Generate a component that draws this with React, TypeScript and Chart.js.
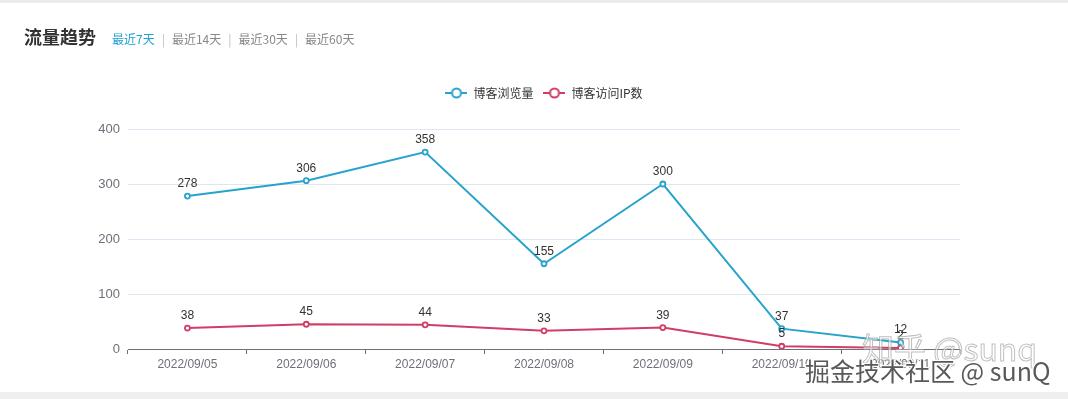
import React, { useEffect, useRef } from "react";
import { Chart, registerables } from "chart.js";

Chart.register(...registerables);

// ---- data ----
const categories = [
  "2022/09/05",
  "2022/09/06",
  "2022/09/07",
  "2022/09/08",
  "2022/09/09",
  "2022/09/10",
  "2022/09/11",
];
const pageViews = [278, 306, 358, 155, 300, 37, 12];
const ipCounts = [38, 45, 44, 33, 39, 5, 2];
const yTicks = [0, 100, 200, 300, 400];
const seriesNames = ["博客浏览量", "博客访问IP数"];
const rangeLinks = ["最近7天", "最近14天", "最近30天", "最近60天"];
const titleText = "流量趋势";
const watermarkA = "知乎 @sunq";
const watermarkB = "掘金技术社区 @ sunQ";

const BLUE = "#27a3cc";
const RED = "#cf3e66";
const FONT = '"Liberation Sans", "Noto Sans CJK SC", sans-serif';
const CJK = '"Noto Sans CJK SC", "Liberation Sans", sans-serif';

function makeIcon(color: string): HTMLCanvasElement {
  const c = document.createElement("canvas");
  c.width = 22;
  c.height = 12;
  const g = c.getContext("2d")!;
  g.strokeStyle = color;
  g.lineWidth = 2;
  g.beginPath();
  g.moveTo(0, 6);
  g.lineTo(22, 6);
  g.stroke();
  g.beginPath();
  g.arc(11, 6, 4.5, 0, Math.PI * 2);
  g.fillStyle = "#fff";
  g.fill();
  g.stroke();
  return c;
}

const valueLabels = {
  id: "valueLabels",
  afterDatasetsDraw(chart: any) {
    const ctx = chart.ctx;
    ctx.save();
    ctx.font = "12px " + FONT;
    ctx.fillStyle = "#333";
    ctx.textAlign = "center";
    ctx.textBaseline = "alphabetic";
    chart.data.datasets.forEach((ds: any, i: number) => {
      const meta = chart.getDatasetMeta(i);
      meta.data.forEach((pt: any, j: number) => {
        ctx.fillText(String(ds.data[j]), pt.x, pt.y - 9);
      });
    });
    ctx.restore();
  },
};

// extra room under the legend, and centre it over the plot area
const PAD_LEFT = 92;
const Y_AXIS_W = 36;
const legendGap = {
  id: "legendGap",
  beforeInit(chart: any) {
    const lg = chart.legend;
    if (!lg) return;
    const fit = lg.fit;
    lg.fit = function () {
      fit.call(this);
      this.height += 20;
    };
  },
  afterLayout(chart: any) {
    const lg = chart.legend;
    if (!lg) return;
    const shift = Y_AXIS_W / 2;
    lg.left += shift;
    lg.right += shift;
  },
};

export default function App() {
  const ref = useRef<HTMLCanvasElement | null>(null);

  useEffect(() => {
    if (!ref.current) return;
    const icons = [makeIcon(BLUE), makeIcon(RED)];
    const chart = new Chart(ref.current, {
      type: "line",
      data: {
        labels: categories,
        datasets: [
          {
            label: seriesNames[0],
            data: pageViews,
            borderColor: BLUE,
            backgroundColor: BLUE,
            borderWidth: 2,
            pointRadius: 2.5,
            pointBorderWidth: 1.8,
            pointBackgroundColor: "#fff",
            pointBorderColor: BLUE,
            tension: 0,
          },
          {
            label: seriesNames[1],
            data: ipCounts,
            borderColor: RED,
            backgroundColor: RED,
            borderWidth: 2,
            pointRadius: 2.5,
            pointBorderWidth: 1.8,
            pointBackgroundColor: "#fff",
            pointBorderColor: RED,
            tension: 0,
          },
        ],
      },
      options: {
        responsive: false,
        animation: false,
        events: [],
        layout: { padding: { top: 77, left: PAD_LEFT, right: 108, bottom: 0 } },
        font: { family: FONT, size: 12 },
        plugins: {
          tooltip: { enabled: false },
          legend: {
            position: "top",
            align: "center",
            labels: {
              usePointStyle: true,
              pointStyleWidth: 22,
              padding: 10,
              color: "#333",
              font: { family: CJK, size: 12 },
              generateLabels(c: any) {
                const items = (Chart.defaults.plugins.legend.labels as any).generateLabels(c);
                return items.map((it: any, i: number) => ({
                  ...it,
                  pointStyle: icons[i],
                  fontColor: "#333",
                }));
              },
            },
          },
        },
        scales: {
          x: {
            offset: true,
            grid: {
              offset: true,
              drawOnChartArea: false,
              drawTicks: true,
              tickLength: 5,
              color: "#6e7079",
              lineWidth: 1,
            },
            border: { display: true, color: "#6e7079", width: 1 },
            ticks: {
              color: "#6e7079",
              font: { family: FONT, size: 12 },
              padding: 3,
              autoSkip: false,
              maxRotation: 0,
            },
            afterFit(scale: any) {
              scale.height = 43;
            },
          },
          y: {
            min: yTicks[0],
            max: yTicks[yTicks.length - 1],
            ticks: {
              stepSize: yTicks[1] - yTicks[0],
              color: "#6e7079",
              padding: 8,
              font: { family: FONT, size: 13 },
            },
            grid: { color: "#e0e6f1", drawTicks: false },
            border: { display: false },
            afterFit(scale: any) {
              scale.width = Y_AXIS_W;
            },
          },
        },
      } as any,
      plugins: [valueLabels, legendGap] as any,
    });
    return () => chart.destroy();
  }, []);

  return (
    <div
      style={{
        position: "fixed",
        left: 0,
        top: 0,
        width: 1068,
        height: 399,
        background: "#fff",
        overflow: "hidden",
      }}
    >
      <div style={{ position: "absolute", left: 0, top: 0, width: 1068, height: 3, background: "#ececec" }} />
      <div style={{ position: "absolute", left: 0, top: 392, width: 1068, height: 7, background: "#efefef" }} />
      <canvas
        ref={ref}
        width={1068}
        height={392}
        style={{ position: "absolute", left: 0, top: 0, width: 1068, height: 392 }}
      />
      <div
        style={{
          position: "absolute",
          left: 24,
          top: 26,
          height: 20,
          lineHeight: "20px",
          fontFamily: CJK,
          fontSize: 18,
          fontWeight: 700,
          color: "#333",
          whiteSpace: "nowrap",
        }}
      >
        {titleText}
      </div>
      <div
        style={{
          position: "absolute",
          left: 112,
          top: 30,
          height: 18,
          lineHeight: "18px",
          fontFamily: CJK,
          fontSize: 12,
          whiteSpace: "nowrap",
          display: "flex",
        }}
      >
        {rangeLinks.map((t, i) => (
          <span key={t} style={{ display: "flex" }}>
            {i > 0 && <span style={{ color: "#bbb", padding: "0 7px" }}>|</span>}
            <span style={{ color: i === 0 ? "#1f9fd4" : "#888" }}>{t}</span>
          </span>
        ))}
      </div>
      <div
        style={{
          position: "absolute",
          left: 862,
          top: 328,
          fontFamily: CJK,
          fontSize: 32,
          lineHeight: "38px",
          color: "rgba(255,255,255,0.55)",
          WebkitTextStroke: "1px rgba(140,140,140,0.55)",
          whiteSpace: "nowrap",
        }}
      >
        {watermarkA}
      </div>
      <div
        style={{
          position: "absolute",
          left: 805,
          top: 355,
          fontFamily: CJK,
          fontSize: 25,
          lineHeight: "30px",
          color: "#595959",
          textShadow: "1px 1px 0 #fff, -1px -1px 0 #fff, 1px -1px 0 #fff, -1px 1px 0 #fff",
          whiteSpace: "nowrap",
        }}
      >
        {watermarkB}
      </div>
    </div>
  );
}
